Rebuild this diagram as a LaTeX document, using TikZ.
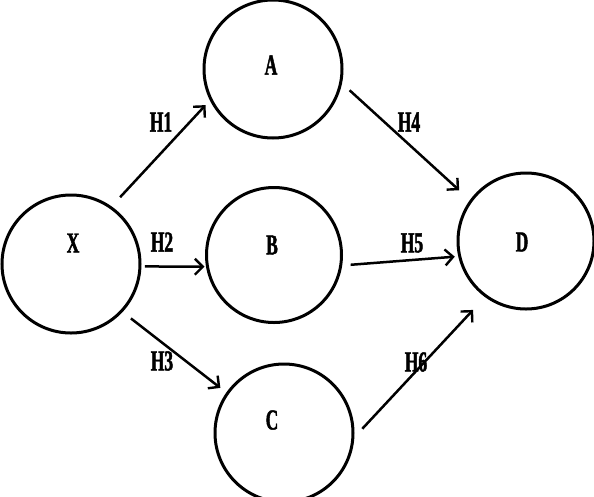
\documentclass[tikz,border=0pt]{standalone}
\usepackage{fontspec}
\newfontfamily\lblfont{Liberation Serif Bold}[FakeStretch=0.6, FakeBold=1.5]
\usetikzlibrary{arrows.meta}

\begin{document}
\begin{tikzpicture}[
    x=1pt, y=-1pt,
    every node/.style={
        inner sep=0pt,
        outer sep=0pt,
    },
    var/.style={
        draw, circle,
        line width=3pt,
        minimum size=#1pt,
    },
    var/.default=137,
    letter/.style={
        font=\fontsize{29}{29}\lblfont,
    },
    hyp/.style={
        -{Straight Barb[length=8pt,width=16pt,line width=2.4pt]},
        line width=2.5pt,
    }
]
    \useasboundingbox (0,0) rectangle (594,496);
    % constructs
    \node[var=138] (X) at (71,264) {};
    \node[var=138] (A) at (273,69) {};
    \node[var=135] (B) at (274,255) {};
    \node[var=138] (C) at (284,433) {};
    \node[var=136] (D) at (526,241) {};
    \node[letter] (Xt) at (73,243) {X};
    \node[letter] (At) at (271,65) {A};
    \node[letter] (Bt) at (272,245) {B};
    \node[letter] (Ct) at (272,420) {C};
    \node[letter] (Dt) at (522,242) {D};
    % hypotheses
    \draw[hyp, shorten <=14pt, shorten >=8pt] (X.55) -- (A.206);
    \draw[hyp, shorten <=5pt, shorten >=3pt] (X.358) -- (B.190);
    \draw[hyp, shorten <=12pt, shorten >=9pt] (X.-43) -- (C.145);
    \draw[hyp, shorten <=12pt, shorten >=16pt] (A.-11) -- (D.144);
    \draw[hyp, shorten <=10pt, shorten >=5pt] (B.-9) -- (D.193);
    \draw[hyp, shorten <=14pt, shorten >=19pt] (C.-5) -- (D.234);
    \node[letter] (h1) at (161,122) {H1};
    \node[letter] (h2) at (162,242) {H2};
    \node[letter] (h3) at (162,361) {H3};
    \node[letter] (h4) at (409,122) {H4};
    \node[letter] (h5) at (412,243) {H5};
    \node[letter] (h6) at (416,362) {H6};
\end{tikzpicture}
\end{document}
